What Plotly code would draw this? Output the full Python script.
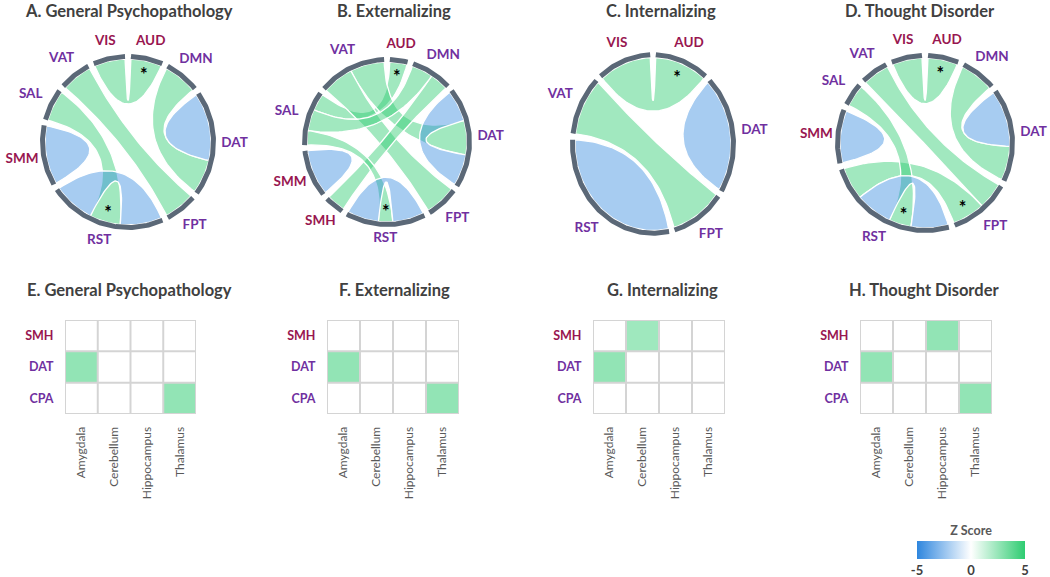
import numpy as np
import plotly.graph_objects as go

W, H = 1050, 577

# ---------------- chord diagram data ----------------
TITLES_TOP = ["A. General Psychopathology", "B. Externalizing", "C. Internalizing", "D. Thought Disorder"]

NODES_A = ["AUD", "DMN", "DAT", "FPT", "RST", "SMM", "SAL", "VAT", "VIS"]
FROM_A = ["VIS", "DMN", "DAT", "VAT", "SAL", "RST", "SMM"]
TO_A = ["AUD", "DAT", "DAT", "FPT", "RST", "RST", "SMM"]
Z_A = [3.0, 3.0, -3.0, 3.0, 3.0, -3.0, -3.0]
WT_A = [1.0, 1.1, 1.1, 1.0, 1.0, 1.35, 0.95]
STAR_A = ["AUD", "", "", "", "RST", "", ""]
ORDER_A = {"DAT": [2, 2, 1], "RST": [5, 4, 5]}

NODES_B = ["AUD", "DMN", "DAT", "FPT", "RST", "SMH", "SMM", "SAL", "VAT"]
FROM_B = ["AUD", "VAT", "VAT", "DMN", "DMN", "SAL", "DAT", "RST", "SMM"]
TO_B = ["SAL", "DAT", "FPT", "SMH", "SAL", "RST", "DAT", "RST", "SMM"]
Z_B = [3.0, 3.0, 3.0, 3.0, 3.0, 3.0, -3.0, -3.0, -3.0]
WT_B = [0.6, 1.2, 1.1, 0.65, 0.75, 0.5, 1.1, 1.1, 0.8]
STAR_B = ["AUD", "", "", "", "", "RST", "", "", ""]
ORDER_B = {"DMN": [4, 3], "DAT": [6, 1, 6], "RST": [7, 5, 7], "SAL": [5, 4, 0], "VAT": [2, 1]}

NODES_C = ["AUD", "DAT", "FPT", "RST", "VAT", "VIS"]
FROM_C = ["VIS", "DAT", "VAT", "RST"]
TO_C = ["AUD", "DAT", "FPT", "RST"]
Z_C = [3.0, -3.0, 3.0, -3.0]
WT_C = [1.0, 1.0, 1.0, 1.35]
STAR_C = ["AUD", "", "", ""]
ORDER_C = {}

NODES_D = ["AUD", "DMN", "DAT", "FPT", "RST", "SMM", "SAL", "VAT", "VIS"]
FROM_D = ["VIS", "DMN", "DAT", "VAT", "RST", "SAL", "RST", "SMM"]
TO_D = ["AUD", "DAT", "DAT", "FPT", "FPT", "RST", "RST", "SMM"]
Z_D = [3.0, 3.0, -3.0, 3.0, 3.0, 3.0, -3.0, -3.0]
WT_D = [1.0, 1.15, 0.95, 0.9, 1.1, 0.75, 1.25, 0.88]
STAR_D = ["AUD", "", "", "", "FPT", "RST", "", ""]
ORDER_D = {"DAT": [2, 2, 1], "FPT": [3, 4], "RST": [6, 5, 6, 4]}

# ---------------- heatmap data ----------------
TITLES_BOTTOM = ["E. General Psychopathology", "F. Externalizing", "G. Internalizing", "H. Thought Disorder"]
HM_ROWS = ["SMH", "DAT", "CPA"]
HM_COLS = ["Amygdala", "Cerebellum", "Hippocampus", "Thalamus"]
HM_E = [[0, 0, 0, 0], [2.6, 0, 0, 0], [0, 0, 0, 2.6]]
HM_F = [[0, 0, 0, 0], [2.6, 0, 0, 0], [0, 0, 0, 2.6]]
HM_G = [[0, 2.3, 0, 0], [2.6, 0, 0, 0], [0, 0, 0, 0]]
HM_H = [[0, 0, 2.6, 0], [2.6, 0, 0, 0], [0, 0, 0, 2.6]]

# ---------------- styles / layout ----------------
CRIMSON = "#981650"
PURPLE = "#7030a0"
LABEL_COLOR = {"VIS": CRIMSON, "AUD": CRIMSON, "SMM": CRIMSON, "SMH": CRIMSON}
ARC_COLOR = "#5b6877"
POS_FILL = "rgba(46,204,113,0.45)"
NEG_FILL = "rgba(46,134,222,0.42)"
FONT = "Lato"
TITLE_COLOR = "#404040"

# panel geometry in pixels: (cx, cy, rx, ry)
CHORD_GEOM = [(128, 142, 88, 88), (387, 142, 85, 85), (653, 144, 83, 92), (925, 143, 90, 90)]
TOP_TITLE_POS = [(129, 11), (394, 11), (661, 11), (920, 11)]
HM_X_PX = [(65, 196), (327, 459), (593, 725), (860, 992)]
HM_Y_PX = (320, 414)
BOTTOM_TITLE_POS = [(129, 290), (394, 290), (662, 290), (924, 290)]
GAP = 4.0

fig = go.Figure()


def pt(g, ang, rho):
    cx, cy, rx, ry = g
    t = np.radians(ang)
    return cx + rx * rho * np.sin(t), cy - ry * rho * np.cos(t)


def arc_pts(g, a1, a2, rho):
    n = max(2, int(abs(a2 - a1)) + 2)
    angs = np.linspace(a1, a2, n)
    xs, ys = pt(g, angs, rho)
    return list(xs), list(ys)


def bez_pts(g, p0, p2, n=40):
    cx, cy = g[0], g[1]
    t = np.linspace(0, 1, n)
    xs = (1 - t) ** 2 * p0[0] + 2 * t * (1 - t) * cx + t ** 2 * p2[0]
    ys = (1 - t) ** 2 * p0[1] + 2 * t * (1 - t) * cy + t ** 2 * p2[1]
    return list(xs), list(ys)


def draw_chord(g, nodes, src, tgt, z, wts, stars, override):
    ends_by_node = {}
    for nd in nodes:
        if nd in override:
            ends_by_node[nd] = override[nd]
        else:
            e = []
            for i, (s, t) in enumerate(zip(src, tgt)):
                if s == nd:
                    e.append(i)
                if t == nd:
                    e.append(i)
            ends_by_node[nd] = e
    total = sum(wts[i] for nd in nodes for i in ends_by_node[nd])
    unit = (360.0 - GAP * len(nodes)) / total
    ang = GAP / 2
    spans = {}
    end_pos = {i: [] for i in range(len(src))}
    for nd in nodes:
        a0 = ang
        for i in ends_by_node[nd]:
            end_pos[i].append((nd, ang, ang + wts[i] * unit))
            ang += wts[i] * unit
        spans[nd] = (a0, ang)
        ang += GAP

    R = g[2]
    rin = (R - 5.0) / R
    rarc = (R - 2.5) / R
    # ribbons
    for i in range(len(src)):
        (n1, a1, a2), (n2, b1, b2) = end_pos[i][0], end_pos[i][1]
        xs, ys = arc_pts(g, a1, a2, rin)
        if abs(b1 - a2) > 1e-6:
            bx, by = bez_pts(g, pt(g, a2, rin), pt(g, b1, rin))
            xs += bx; ys += by
        ax, ay = arc_pts(g, b1, b2, rin)
        xs += ax; ys += ay
        bx, by = bez_pts(g, pt(g, b2, rin), pt(g, a1, rin))
        xs += bx; ys += by
        fig.add_trace(go.Scatter(
            x=xs, y=ys, mode="lines", fill="toself",
            fillcolor=POS_FILL if z[i] > 0 else NEG_FILL,
            line=dict(color="white", width=1.3),
            hoverinfo="skip", showlegend=False, xaxis="x", yaxis="y"))
    # outer arcs
    for nd in nodes:
        a0, a1 = spans[nd]
        xs, ys = arc_pts(g, a0, a1, rarc)
        fig.add_trace(go.Scatter(
            x=xs, y=ys, mode="lines", line=dict(color=ARC_COLOR, width=5),
            hoverinfo="skip", showlegend=False, xaxis="x", yaxis="y"))
    # labels
    lx, ly, lt, lc = [], [], [], []
    for nd in nodes:
        a0, a1 = spans[nd]
        mid = (a0 + a1) / 2
        s, c = np.sin(np.radians(mid)), np.cos(np.radians(mid))
        hw, hh = 4.8 * len(nd), 7.5
        dist = 4.0 + abs(s) * hw + abs(c) * hh
        x = g[0] + (g[2] + dist) * s
        y = g[1] - (g[3] + dist) * c
        lx.append(x); ly.append(y); lt.append("<b>%s</b>" % nd)
        lc.append(LABEL_COLOR.get(nd, PURPLE))
    fig.add_trace(go.Scatter(
        x=lx, y=ly, mode="text", text=lt, textposition="middle center",
        textfont=dict(family=FONT, size=13.5, color=lc), cliponaxis=False,
        hoverinfo="skip", showlegend=False, xaxis="x", yaxis="y"))
    # asterisks
    sx, sy = [], []
    for i, st in enumerate(stars):
        if not st:
            continue
        for (nd, e0, e1) in end_pos[i]:
            if nd == st:
                m = (e0 + e1) / 2
                x, y = pt(g, m, (R - 17.0) / R)
                sx.append(x); sy.append(y + 4)
                break
    fig.add_trace(go.Scatter(
        x=sx, y=sy, mode="text", text=["<b>*</b>"] * len(sx), textposition="middle center",
        textfont=dict(family=FONT, size=18, color="black"), cliponaxis=False,
        hoverinfo="skip", showlegend=False, xaxis="x", yaxis="y"))


chords = [
    (NODES_A, FROM_A, TO_A, Z_A, WT_A, STAR_A, ORDER_A),
    (NODES_B, FROM_B, TO_B, Z_B, WT_B, STAR_B, ORDER_B),
    (NODES_C, FROM_C, TO_C, Z_C, WT_C, STAR_C, ORDER_C),
    (NODES_D, FROM_D, TO_D, Z_D, WT_D, STAR_D, ORDER_D),
]
for g, ch in zip(CHORD_GEOM, chords):
    draw_chord(g, *ch)

annotations = []
for (px, py), t in zip(TOP_TITLE_POS, TITLES_TOP):
    annotations.append(dict(x=px / W, y=1 - py / H, xref="paper", yref="paper",
                            text="<b>%s</b>" % t, showarrow=False, xanchor="center", yanchor="middle",
                            font=dict(family=FONT, size=16.5, color=TITLE_COLOR)))
for (px, py), t in zip(BOTTOM_TITLE_POS, TITLES_BOTTOM):
    annotations.append(dict(x=px / W, y=1 - py / H, xref="paper", yref="paper",
                            text="<b>%s</b>" % t, showarrow=False, xanchor="center", yanchor="middle",
                            font=dict(family=FONT, size=16.5, color=TITLE_COLOR)))

# ---------------- heatmaps ----------------
layout_axes = {}
ytext = ["<b><span style='color:%s'>%s</span></b>" % (LABEL_COLOR.get(r, PURPLE), r) for r in HM_ROWS]
nr, nc = len(HM_ROWS), len(HM_COLS)
for k, hm in enumerate([HM_E, HM_F, HM_G, HM_H]):
    xa, ya = "x%d" % (k + 2), "y%d" % (k + 2)
    fig.add_trace(go.Heatmap(z=hm, x=list(range(nc)), y=list(range(nr)), coloraxis="coloraxis",
                             xaxis=xa, yaxis=ya, hoverinfo="skip"))
    gx, gy = [], []
    for i in range(nc + 1):
        gx += [i - 0.5, i - 0.5, None]; gy += [-0.5, nr - 0.5, None]
    for j in range(nr + 1):
        gx += [-0.5, nc - 0.5, None]; gy += [j - 0.5, j - 0.5, None]
    fig.add_trace(go.Scatter(x=gx, y=gy, mode="lines", line=dict(color="#d4d4d4", width=2),
                             cliponaxis=False, hoverinfo="skip", showlegend=False, xaxis=xa, yaxis=ya))
    x0, x1 = HM_X_PX[k]
    layout_axes["xaxis%d" % (k + 2)] = dict(
        domain=[x0 / W, x1 / W], anchor=ya, range=[-0.5, nc - 0.5], showgrid=False, zeroline=False,
        showline=False, tickvals=list(range(nc)), ticktext=HM_COLS, tickangle=-90,
        ticks="outside", ticklen=7, tickcolor="rgba(0,0,0,0)", automargin=False,
        tickfont=dict(family=FONT, size=12, color="#595959"), fixedrange=True)
    layout_axes["yaxis%d" % (k + 2)] = dict(
        domain=[1 - HM_Y_PX[1] / H, 1 - HM_Y_PX[0] / H], anchor=xa, range=[nr - 0.5, -0.5],
        showgrid=False, zeroline=False, showline=False, tickvals=list(range(nr)), ticktext=ytext,
        ticks="outside", ticklen=8, tickcolor="rgba(0,0,0,0)", automargin=False,
        tickfont=dict(family=FONT, size=12.5), fixedrange=True)

fig.update_layout(
    width=W, height=H, margin=dict(l=0, r=0, t=0, b=0),
    paper_bgcolor="white", plot_bgcolor="rgba(0,0,0,0)",
    xaxis=dict(domain=[0, 1], range=[0, W], visible=False, fixedrange=True, automargin=False),
    yaxis=dict(domain=[0, 1], range=[H, 0], visible=False, fixedrange=True, automargin=False),
    coloraxis=dict(
        cmin=-5, cmax=5,
        colorscale=[[0, "#2e86de"], [0.5, "#ffffff"], [1, "#2ecc71"]],
        colorbar=dict(orientation="h", x=971 / W, xanchor="center", y=1 - 526 / H, yanchor="top",
                      len=108, lenmode="pixels", thickness=18, thicknessmode="pixels",
                      outlinewidth=0, xpad=0, ypad=0, tickvals=[-5, 0, 5],
                      ticktext=["<b>-5</b>", "<b>0</b>", "<b>5</b>"], ticks="",
                      tickfont=dict(family=FONT, size=13, color="#404040"),
                      title=dict(text="<b>Z Score</b>", side="top",
                                 font=dict(family=FONT, size=12.5, color="#595959")))),
    annotations=annotations,
    showlegend=False,
    **layout_axes,
)

fig.write_html("out.html", config={"displayModeBar": False},
               post_script="document.body.style.margin='0px';")
